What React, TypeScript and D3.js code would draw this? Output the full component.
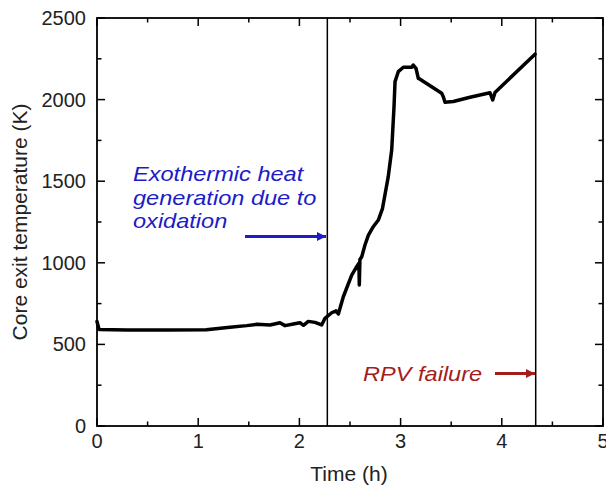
import React, { useEffect, useRef } from "react";
import * as d3 from "d3";

const times = [0, 0.02, 0.3, 0.7, 1.08, 1.314, 1.479, 1.578, 1.71, 1.808, 1.858, 1.94, 2.006, 2.04, 2.088, 2.154, 2.22, 2.253, 2.319, 2.362, 2.385, 2.434, 2.517, 2.566, 2.588, 2.592, 2.598, 2.616, 2.648, 2.682, 2.73, 2.78, 2.82, 2.878, 2.912, 2.935, 2.945, 2.977, 3.027, 3.11, 3.125, 3.152, 3.175, 3.192, 3.406, 3.422, 3.439, 3.521, 3.686, 3.883, 3.91, 3.933, 4.328];
const temps = [640, 592, 588, 588, 590, 605, 615, 623, 619, 633, 615, 625, 633, 617, 641, 635, 619, 660, 694, 706, 686, 792, 925, 976, 997, 864, 1020, 1037, 1109, 1170, 1221, 1262, 1330, 1528, 1691, 1957, 2110, 2171, 2198, 2198, 2212, 2192, 2130, 2125, 2039, 2018, 1984, 1988, 2014, 2042, 1998, 2044, 2278];

const xTicks = [0, 1, 2, 3, 4, 5];
const yTicks = [0, 500, 1000, 1500, 2000, 2500];
const eventLines = [2.276, 4.335];
const annotationLines = ["Exothermic heat", "generation due to", "oxidation"];
const rpvLabel = "RPV failure";

const W = 606, H = 487;
const M = { left: 97, right: 603, top: 18, bottom: 426 };
const FONT = "'Liberation Sans', Arial, Helvetica, sans-serif";

export default function App() {
  const ref = useRef<SVGSVGElement>(null);
  useEffect(() => {
    document.body.style.margin = "0";
    const svg = d3.select(ref.current);
    svg.selectAll("*").remove();
    const x = d3.scaleLinear().domain([0, 5]).range([M.left, M.right]);
    const y = d3.scaleLinear().domain([0, 2500]).range([M.bottom, M.top]);

    const defs = svg.append("defs");
    const mk = (id: string, color: string) =>
      defs.append("marker").attr("id", id).attr("viewBox", "0 0 10 10").attr("refX", 10).attr("refY", 5)
        .attr("markerWidth", 11).attr("markerHeight", 9).attr("markerUnits", "userSpaceOnUse").attr("orient", "auto")
        .append("path").attr("d", "M0,0 L10,5 L0,10 z").attr("fill", color);
    mk("arrBlue", "#1c1cc8");
    mk("arrRed", "#a51c1c");

    // ticks
    const xMinor = d3.range(0, 5.01, 0.5);
    const yMinor = d3.range(0, 2501, 250);
    const g = svg.append("g").attr("stroke", "#000").attr("stroke-width", 1.5);
    xMinor.forEach((v) => {
      const len = Math.abs(v - Math.round(v)) < 1e-6 ? 8 : 4.5;
      g.append("line").attr("x1", x(v)).attr("x2", x(v)).attr("y1", M.bottom).attr("y2", M.bottom - len);
      g.append("line").attr("x1", x(v)).attr("x2", x(v)).attr("y1", M.top).attr("y2", M.top + len);
    });
    yMinor.forEach((v) => {
      const len = v % 500 === 0 ? 8 : 4.5;
      g.append("line").attr("x1", M.left).attr("x2", M.left + len).attr("y1", y(v)).attr("y2", y(v));
      g.append("line").attr("x1", M.right).attr("x2", M.right - len).attr("y1", y(v)).attr("y2", y(v));
    });

    // event lines
    eventLines.forEach((t) => {
      svg.append("line").attr("x1", x(t)).attr("x2", x(t)).attr("y1", M.top).attr("y2", M.bottom)
        .attr("stroke", "#000").attr("stroke-width", 1.5);
    });

    // frame
    svg.append("rect").attr("x", M.left).attr("y", M.top).attr("width", M.right - M.left).attr("height", M.bottom - M.top)
      .attr("fill", "none").attr("stroke", "#000").attr("stroke-width", 1.8);

    // curve
    const line = d3.line<number>().x((_, i) => x(times[i])).y((d) => y(d)).curve(d3.curveLinear);
    svg.append("path").attr("d", line(temps) as string).attr("fill", "none").attr("stroke", "#000")
      .attr("stroke-width", 3.5).attr("stroke-linejoin", "round").attr("stroke-linecap", "round");

    // tick labels
    xTicks.forEach((v) => {
      svg.append("text").attr("x", x(v)).attr("y", 448).attr("text-anchor", "middle")
        .attr("font-family", FONT).attr("font-size", 20).attr("fill", "#222").text(v);
    });
    yTicks.forEach((v) => {
      svg.append("text").attr("x", 86).attr("y", y(v) + 7).attr("text-anchor", "end")
        .attr("font-family", FONT).attr("font-size", 20).attr("fill", "#222").text(v);
    });

    svg.append("text").attr("x", 349).attr("y", 481).attr("text-anchor", "middle")
      .attr("font-family", FONT).attr("font-size", 21).attr("fill", "#222").text("Time (h)");
    svg.append("text").attr("transform", `translate(27,222) rotate(-90)`).attr("text-anchor", "middle")
      .attr("font-family", FONT).attr("font-size", 21).attr("fill", "#222").text("Core exit temperature (K)");

    // annotations (text horizontally stretched as in the reference)
    annotationLines.forEach((s, i) => {
      svg.append("text").attr("transform", `translate(133,${181 + i * 23.5}) scale(1.15,1)`).attr("font-family", FONT)
        .attr("font-size", 20.5).attr("font-style", "italic").attr("fill", "#1c1cc8").text(s);
    });
    svg.append("line").attr("x1", 245).attr("x2", 326).attr("y1", 236.5).attr("y2", 236.5)
      .attr("stroke", "#1c1cc8").attr("stroke-width", 3).attr("marker-end", "url(#arrBlue)");

    svg.append("text").attr("transform", `translate(363,381) scale(1.15,1)`).attr("font-family", FONT).attr("font-size", 20.5)
      .attr("font-style", "italic").attr("fill", "#a51c1c").text(rpvLabel);
    svg.append("line").attr("x1", 495).attr("x2", 535).attr("y1", 373.5).attr("y2", 373.5)
      .attr("stroke", "#a51c1c").attr("stroke-width", 3).attr("marker-end", "url(#arrRed)");
  }, []);
  return <svg ref={ref} width={W} height={H} style={{ display: "block", background: "#fff" }} />;
}
